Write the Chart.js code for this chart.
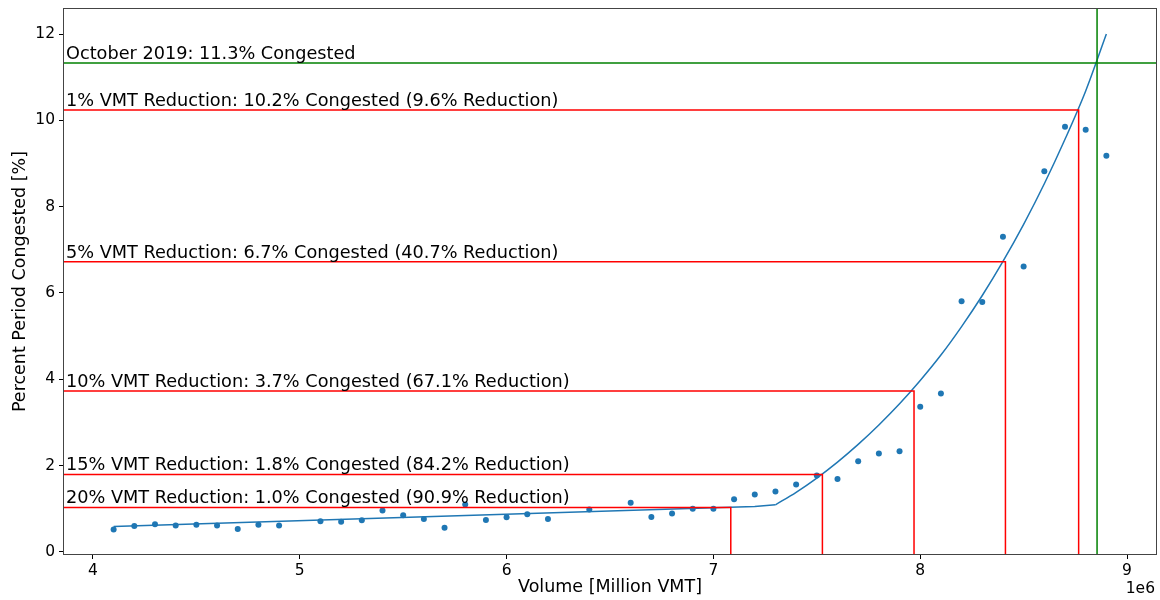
<!DOCTYPE html>
<html>
<head>
<meta charset="utf-8">
<script src="https://cdn.jsdelivr.net/npm/chart.js@4.4.1/dist/chart.umd.min.js"></script>
<style>
  html, body { margin: 0; padding: 0; background: #fff; }
  #wrap { width: 1160px; height: 600px; }
</style>
</head>
<body>
<div id="wrap"><canvas id="chart" width="1160" height="600"></canvas></div>
<script>
// Observed congestion per daily volume (million VMT)
const volume = [
  4.1, 4.2, 4.3, 4.4, 4.5, 4.6, 4.7, 4.8, 4.9,
  5.1, 5.2, 5.3, 5.4, 5.5, 5.6, 5.7, 5.8, 5.9, 6.0, 6.1, 6.2,
  6.4, 6.6, 6.7, 6.8, 6.9, 7.0, 7.1, 7.2, 7.3, 7.4, 7.5, 7.6,
  7.7, 7.8, 7.9, 8.0, 8.1, 8.2, 8.3, 8.4, 8.5, 8.6, 8.7, 8.8, 8.9,
];
const congested = [
  0.52, 0.60, 0.64, 0.61, 0.63, 0.61, 0.53, 0.63, 0.61,
  0.71, 0.70, 0.73, 0.96, 0.85, 0.76, 0.56, 1.10, 0.74, 0.80, 0.87, 0.76,
  0.98, 1.14, 0.81, 0.89, 1.00, 1.00, 1.22, 1.33, 1.40, 1.56, 1.77, 1.69,
  2.10, 2.28, 2.33, 3.36, 3.67, 5.81, 5.79, 7.30, 6.61, 8.82, 9.85, 9.78, 9.18,
];

// Fitted curve: straight part, then the steep part
const fitLowVolume = [4.1, 7.0, 7.2, 7.3];
const fitLowCongested = [0.59, 1.02, 1.05, 1.09];
const fitHighVolume = [7.3, 7.4, 7.5, 7.6, 7.7, 7.8, 7.9, 8.0, 8.1, 8.2, 8.3, 8.4, 8.5, 8.6, 8.7, 8.8, 8.9];
const fitHighCongested = [1.09, 1.38, 1.71, 2.08, 2.49, 2.94, 3.43, 3.97, 4.56, 5.22, 5.94, 6.73, 7.59, 8.53, 9.56, 10.68, 12.0];

// Baseline and VMT reduction scenarios
const baselineLabel = 'October 2019: 11.3% Congested';
const baselineVolume = 8.855;
const baselineCongested = 11.33;

const scenarioLabels = [
  '1% VMT Reduction: 10.2% Congested (9.6% Reduction)',
  '5% VMT Reduction: 6.7% Congested (40.7% Reduction)',
  '10% VMT Reduction: 3.7% Congested (67.1% Reduction)',
  '15% VMT Reduction: 1.8% Congested (84.2% Reduction)',
  '20% VMT Reduction: 1.0% Congested (90.9% Reduction)',
];
const scenarioVolume = [8.766, 8.412, 7.970, 7.527, 7.084];
const scenarioCongested = [10.24, 6.72, 3.73, 1.79, 1.03];

const xTickValues = [4, 5, 6, 7, 8, 9];
const yTickValues = [0, 2, 4, 6, 8, 10, 12];

const X_MIN = 3.86, X_MAX = 9.14;
const Y_MIN = -0.05, Y_MAX = 12.58;

const BLUE = '#1f77b4';
const FONT = 'DejaVu Sans';

Chart.defaults.font.family = FONT;
Chart.defaults.color = '#000';

const datasets = [];

datasets.push({
  label: 'observed',
  data: volume.map((v, i) => ({ x: v, y: congested[i] })),
  backgroundColor: BLUE,
  borderColor: BLUE,
  pointRadius: 3,
  pointBorderWidth: 0,
  showLine: false,
  order: 3,
});

datasets.push({
  label: 'fit-low',
  data: fitLowVolume.map((v, i) => ({ x: v, y: fitLowCongested[i] })),
  borderColor: BLUE,
  borderWidth: 1.5,
  pointRadius: 0,
  showLine: true,
  order: 2,
});
datasets.push({
  label: 'fit-high',
  data: fitHighVolume.map((v, i) => ({ x: v, y: fitHighCongested[i] })),
  borderColor: BLUE,
  borderWidth: 1.5,
  pointRadius: 0,
  showLine: true,
  cubicInterpolationMode: 'monotone',
  order: 2,
});

scenarioVolume.forEach((v, i) => {
  datasets.push({
    label: scenarioLabels[i],
    data: [
      { x: X_MIN, y: scenarioCongested[i] },
      { x: v, y: scenarioCongested[i] },
      { x: v, y: Y_MIN },
    ],
    borderColor: '#ff0000',
    borderWidth: 1.5,
    pointRadius: 0,
    showLine: true,
    order: 1,
  });
});

datasets.push({
  label: 'baseline-h',
  data: [{ x: X_MIN, y: baselineCongested }, { x: X_MAX, y: baselineCongested }],
  borderColor: '#008000',
  borderWidth: 1.5,
  pointRadius: 0,
  showLine: true,
  order: 1,
});
datasets.push({
  label: 'baseline-v',
  data: [{ x: baselineVolume, y: Y_MIN }, { x: baselineVolume, y: Y_MAX }],
  borderColor: '#008000',
  borderWidth: 1.5,
  pointRadius: 0,
  showLine: true,
  order: 1,
});

// Frame, annotation texts and the offset label
const decorations = {
  id: 'decorations',
  afterDatasetsDraw(chart) {
    const { ctx, chartArea: area, scales } = chart;
    ctx.save();
    ctx.font = '17.7px "' + FONT + '"';
    ctx.fillStyle = '#000';
    ctx.textAlign = 'left';
    ctx.textBaseline = 'alphabetic';
    const texts = [baselineLabel].concat(scenarioLabels);
    const levels = [baselineCongested].concat(scenarioCongested);
    texts.forEach((t, i) => {
      ctx.fillText(t, area.left + 2, scales.y.getPixelForValue(levels[i] + 0.1));
    });

    ctx.strokeStyle = '#444';
    ctx.lineWidth = 1;
    ctx.strokeRect(Math.round(area.left) - 0.5, Math.round(area.top) - 0.5,
      Math.round(area.right - area.left) + 1, Math.round(area.bottom - area.top) + 1);

    ctx.font = '15.5px "' + FONT + '"';
    ctx.textAlign = 'right';
    ctx.fillText('1e6', area.right - 1, 593);
    ctx.restore();
  },
};

const tickFont = { family: FONT, size: 15.5 };
const titleFont = { family: FONT, size: 17.5 };

new Chart(document.getElementById('chart'), {
  type: 'scatter',
  data: { datasets },
  options: {
    responsive: false,
    animation: false,
    layout: { padding: { left: 0, right: 3, top: 9, bottom: 0 } },
    plugins: {
      legend: { display: false },
      tooltip: { enabled: false },
    },
    scales: {
      x: {
        type: 'linear',
        min: X_MIN,
        max: X_MAX,
        afterBuildTicks(scale) {
          scale.ticks = xTickValues.map((v) => ({ value: v }));
        },
        afterFit(scale) {
          scale.height = 46;
        },
        ticks: { font: tickFont, color: '#000', padding: 3, maxRotation: 0 },
        grid: { drawOnChartArea: false, drawTicks: true, tickLength: 5, tickColor: '#000' },
        border: { display: false },
        title: {
          display: true,
          text: 'Volume [Million VMT]',
          font: titleFont,
          color: '#000',
          padding: { top: 0, bottom: 2 },
        },
      },
      y: {
        type: 'linear',
        min: Y_MIN,
        max: Y_MAX,
        afterBuildTicks(scale) {
          scale.ticks = yTickValues.map((v) => ({ value: v }));
        },
        afterFit(scale) {
          scale.width = 64;
          scale.paddingTop = 0;
          scale.paddingBottom = 0;
        },
        ticks: { font: tickFont, color: '#000', padding: 4 },
        grid: { drawOnChartArea: false, drawTicks: true, tickLength: 5, tickColor: '#000' },
        border: { display: false },
        title: {
          display: true,
          text: 'Percent Period Congested [%]',
          font: titleFont,
          color: '#000',
          padding: { top: 9.5, bottom: 0 },
        },
      },
    },
  },
  plugins: [decorations],
});
</script>
</body>
</html>
